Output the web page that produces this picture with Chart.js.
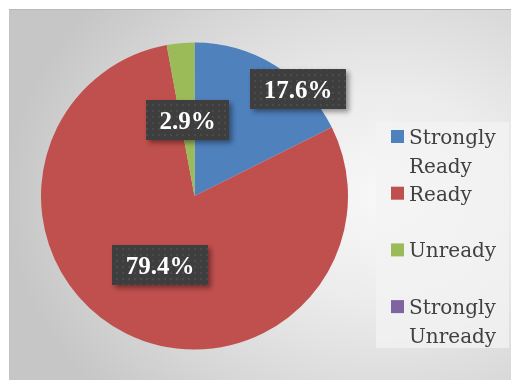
<!DOCTYPE html>
<html>
<head>
<meta charset="utf-8">
<script src="https://cdn.jsdelivr.net/npm/chart.js@4.4.0/dist/chart.umd.min.js"></script>
<style>
  html, body { margin: 0; padding: 0; background: #ffffff; }
  #wrap { position: relative; width: 511px; height: 380px; overflow: hidden; }
  #bg {
    position: absolute; left: 9px; top: 9px; width: 503px; height: 372px;
    background: radial-gradient(ellipse 75% 80% at 74% 50%, #f8f8f8 0%, #ececec 35%, #d6d6d6 75%, #c6c6c6 100%);
    border-top: 1px solid #b8b8b8; border-left: 1px solid #c4c4c4;
  }
  #legendBox {
    position: absolute; left: 376px; top: 122px; width: 133px; height: 226px;
    background: rgba(243,243,243,0.75);
  }
  canvas { position: absolute; left: 0; top: 0; }
</style>
</head>
<body>
<div id="wrap">
  <div id="bg"></div>
  <div id="legendBox"></div>
  <canvas id="c" width="511" height="380"></canvas>
</div>
<script>
// ---- data ----
const categories = ["Strongly Ready", "Ready", "Unready", "Strongly Unready"];
const percentages = [17.6, 79.4, 2.9, 0.0];
const sliceColors = ["#4f81bd", "#c0504d", "#9bbb59", "#8064a2"];

// pattern for the dark label boxes
function makePattern(ctx) {
  const p = document.createElement('canvas');
  p.width = 6; p.height = 6;
  const pc = p.getContext('2d');
  pc.fillStyle = '#3e3e3e';
  pc.fillRect(0, 0, 6, 6);
  pc.fillStyle = '#4b4b4b';
  pc.fillRect(2, 2, 2, 2);
  return ctx.createPattern(p, 'repeat');
}

const labelPlugin = {
  id: 'boxLabels',
  afterDatasetsDraw(chart, args, opts) {
    const ctx = chart.ctx;
    const meta = chart.getDatasetMeta(0);
    const pattern = makePattern(ctx);
    ctx.save();
    ctx.font = 'bold 25px "Liberation Serif", serif';
    meta.data.forEach((arc, i) => {
      const v = chart.data.datasets[0].data[i];
      if (!v) return;
      const place = opts.placement[i] || { r: 0.5, anchor: 'center' };
      const mid = (arc.startAngle + arc.endAngle) / 2;
      const rr = arc.outerRadius * place.r;
      const px = arc.x + Math.cos(mid) * rr;
      const py = arc.y + Math.sin(mid) * rr;
      const txt = v.toFixed(1) + '%';
      const tw = ctx.measureText(txt).width;
      const w = Math.round(tw + 27), h = 40;
      let bx, by;
      if (place.anchor === 'bottom-left') { bx = px + 1; by = py - h; }
      else { bx = px - w / 2; by = py - h / 2; }
      bx = Math.round(bx); by = Math.round(by);
      ctx.save();
      ctx.shadowColor = 'rgba(0,0,0,0.4)';
      ctx.shadowBlur = 5;
      ctx.shadowOffsetX = 3;
      ctx.shadowOffsetY = 3;
      ctx.fillStyle = '#3e3e3e';
      ctx.fillRect(bx, by, w, h);
      ctx.restore();
      ctx.fillStyle = pattern;
      ctx.fillRect(bx, by, w, h);
      ctx.fillStyle = '#ffffff';
      ctx.textAlign = 'center';
      ctx.textBaseline = 'alphabetic';
      ctx.fillText(txt, bx + w / 2, by + h / 2 + 8.5);
    });
    ctx.restore();
  }
};

const legendPlugin = {
  id: 'sideLegend',
  afterDraw(chart, args, opts) {
    const ctx = chart.ctx;
    ctx.save();
    ctx.font = '20px "DejaVu Serif", serif';
    ctx.textBaseline = 'alphabetic';
    ctx.textAlign = 'left';
    const labels = chart.data.labels;
    const colors = chart.data.datasets[0].backgroundColor;
    labels.forEach((lab, i) => {
      const base = opts.firstBaseline + i * opts.itemStep;
      ctx.fillStyle = colors[i];
      ctx.fillRect(opts.x, base - 14, 13, 13);
      const words = lab.split(' ');
      const lines = [];
      let cur = '';
      words.forEach(wd => {
        const test = cur ? cur + ' ' + wd : wd;
        if (cur && ctx.measureText(test).width > opts.maxWidth) { lines.push(cur); cur = wd; }
        else cur = test;
      });
      if (cur) lines.push(cur);
      ctx.fillStyle = '#404040';
      lines.forEach((ln, k) => ctx.fillText(ln, opts.x + 18, base + k * opts.lineHeight));
    });
    ctx.restore();
  }
};

new Chart(document.getElementById('c'), {
  type: 'pie',
  data: {
    labels: categories,
    datasets: [{
      data: percentages,
      backgroundColor: sliceColors,
      borderWidth: 0
    }]
  },
  options: {
    responsive: false,
    devicePixelRatio: 1,
    animation: false,
    layout: { padding: { left: 41, right: 163, top: 42, bottom: 30 } },
    plugins: {
      legend: { display: false },
      tooltip: { enabled: false },
      boxLabels: {
        placement: [
          { r: 0.67, anchor: 'bottom-left' },
          { r: 0.5, anchor: 'center' },
          { r: 0.5, anchor: 'center' },
          { r: 0.5, anchor: 'center' }
        ]
      },
      sideLegend: { x: 391, firstBaseline: 144, itemStep: 56.7, lineHeight: 28.5, maxWidth: 98 }
    }
  },
  plugins: [labelPlugin, legendPlugin]
});
</script>
</body>
</html>
